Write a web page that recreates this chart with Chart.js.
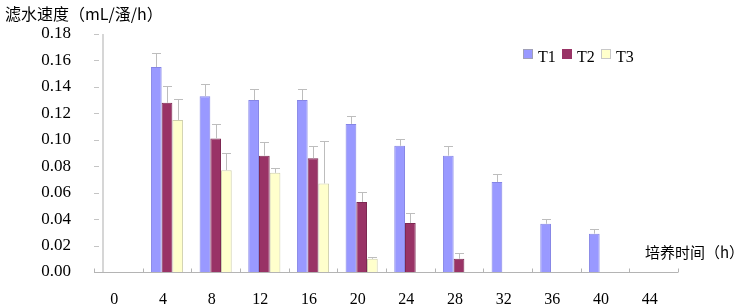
<!DOCTYPE html>
<html><head><meta charset="utf-8">
<script src="https://cdn.jsdelivr.net/npm/chart.js@4.4.1/dist/chart.umd.min.js"></script>
<style>html,body{margin:0;padding:0;background:#fff;}#wrap{width:748px;height:308px;position:relative;}</style>
</head><body><div id="wrap"><canvas id="c"></canvas></div>
<script>
const categories = ['0','4','8','12','16','20','24','28','32','36','40','44'];
const seriesNames = ['T1','T2','T3'];
const t1Values = [0, 0.155, 0.133, 0.130, 0.130, 0.112, 0.0955, 0.088, 0.068, 0.0365, 0.029, null];
const t1Errors = [0, 0.011, 0.0095, 0.0085, 0.0085, 0.006, 0.005, 0.007, 0.006, 0.0035, 0.0035, null];
const t2Values = [0, 0.128, 0.101, 0.088, 0.086, 0.053, 0.037, 0.010, null, null, null, null];
const t2Errors = [0, 0.013, 0.011, 0.010, 0.0095, 0.0075, 0.0076, 0.004, null, null, null, null];
const t3Values = [0, 0.115, 0.077, 0.075, 0.067, 0.010, null, null, null, null, null, null];
const t3Errors = [0, 0.016, 0.013, 0.004, 0.032, 0.001, null, null, null, null, null, null];
const yTitle = '滤水速度（mL/溞/h）';
const xTitle = '培养时间（h）';

const serif = "Liberation Serif";
const cjk = "Noto Sans CJK SC";
const errors = [t1Errors, t2Errors, t3Errors];
Chart.defaults.font.family = serif;
Chart.defaults.font.size = 16;
Chart.defaults.color = '#000';

const decor = {
  id: 'decor',
  beforeDatasetsDraw(chart) {
    const ctx = chart.ctx, a = chart.chartArea, ys = chart.scales.y;
    ctx.save();
    ctx.strokeStyle = '#d6d6d6'; ctx.lineWidth = 2;
    ctx.beginPath(); ctx.moveTo(a.left + 9, a.top); ctx.lineTo(a.left + 9, a.bottom); ctx.stroke();
    ctx.strokeStyle = '#c4c4c4'; ctx.lineWidth = 1;
    ys.ticks.forEach((t, i) => {
      const y = Math.round(ys.getPixelForTick(i)) + 0.5;
      ctx.beginPath(); ctx.moveTo(a.left, y); ctx.lineTo(a.left + 5, y); ctx.stroke();
    });
    ctx.strokeStyle = '#b4b4b4';
    const yb = Math.round(a.bottom) + 0.5;
    ctx.beginPath(); ctx.moveTo(a.left, yb); ctx.lineTo(a.right, yb); ctx.stroke();
    const n = categories.length, step = (a.right - a.left) / n;
    for (let i = 0; i <= n; i++) {
      const x = Math.round(a.left + i * step) + 0.5;
      ctx.beginPath(); ctx.moveTo(x, yb); ctx.lineTo(x, yb - 4); ctx.stroke();
    }
    ctx.restore();
  },
  afterDatasetsDraw(chart) {
    const ctx = chart.ctx, ys = chart.scales.y;
    ctx.save();
    ctx.strokeStyle = '#bdbdbd'; ctx.lineWidth = 1;
    chart.data.datasets.forEach((ds, di) => {
      const meta = chart.getDatasetMeta(di);
      meta.data.forEach((bar, j) => {
        const v = ds.data[j], e = errors[di][j];
        if (v == null || e == null || e <= 0) return;
        const x = Math.round(bar.x) + 0.5;
        const y0 = ys.getPixelForValue(v), y1 = Math.round(ys.getPixelForValue(v + e)) + 0.5;
        ctx.beginPath(); ctx.moveTo(x, y0); ctx.lineTo(x, y1);
        ctx.moveTo(x - 4.5, y1); ctx.lineTo(x + 4.5, y1); ctx.stroke();
      });
    });
    ctx.restore();
  },
  afterDraw(chart) {
    const ctx = chart.ctx;
    ctx.save();
    const positions = [523, 562, 601];
    chart.data.datasets.forEach((ds, i) => {
      const x = positions[i];
      ctx.fillStyle = ds.backgroundColor; ctx.strokeStyle = ds.legendBorder;
      ctx.lineWidth = 1;
      ctx.fillRect(x, 49, 10, 10); ctx.strokeRect(x + 0.5, 49.5, 9, 9);
      ctx.fillStyle = '#000'; ctx.font = '16px ' + serif;
      ctx.textBaseline = 'middle'; ctx.textAlign = 'left';
      ctx.fillText(ds.label, x + 15, 58);
    });
    ctx.fillStyle = '#000';
    ctx.font = '16px ' + cjk; ctx.textAlign = 'left'; ctx.textBaseline = 'middle';
    ctx.fillText(yTitle, 5, 14);
    ctx.font = '15px ' + cjk; ctx.textAlign = 'right';
    ctx.fillText(xTitle, 744, 252);
    ctx.restore();
  }
};

new Chart(document.getElementById('c'), {
  type: 'bar',
  data: {
    labels: categories,
    datasets: [
      { label: seriesNames[0], data: t1Values, backgroundColor: '#9999FF', borderColor: '#8585e6', legendBorder: '#a0a0b8', borderWidth: 1 },
      { label: seriesNames[1], data: t2Values, backgroundColor: '#993366', borderColor: '#7d2852', legendBorder: '#993366', borderWidth: 1 },
      { label: seriesNames[2], data: t3Values, backgroundColor: '#FFFFCC', borderColor: '#cfcfae', legendBorder: '#c8c8c8', borderWidth: 1 }
    ]
  },
  options: {
    responsive: true, maintainAspectRatio: false, animation: false,
    layout: { padding: { top: 34, right: 70, left: 0, bottom: 0 } },
    datasets: { bar: { categoryPercentage: 0.66, barPercentage: 1 } },
    plugins: { legend: { display: false }, tooltip: { enabled: false } },
    scales: {
      x: {
        offset: true,
        grid: { display: false, drawTicks: false }, border: { display: false },
        ticks: { color: '#000', font: { family: serif, size: 16 }, padding: 18, labelOffset: -4, maxRotation: 0, autoSkip: false },
        afterFit: s => { s.height = 36; }
      },
      y: {
        min: 0, max: 0.18,
        grid: { display: false, drawTicks: false }, border: { display: false },
        ticks: { stepSize: 0.02, color: '#000', font: { family: serif, size: 17 }, padding: 23, callback: v => Number(v).toFixed(2) },
        afterFit: s => { s.width = 94; }
      }
    }
  },
  plugins: [decor]
});
</script>
</body></html>
